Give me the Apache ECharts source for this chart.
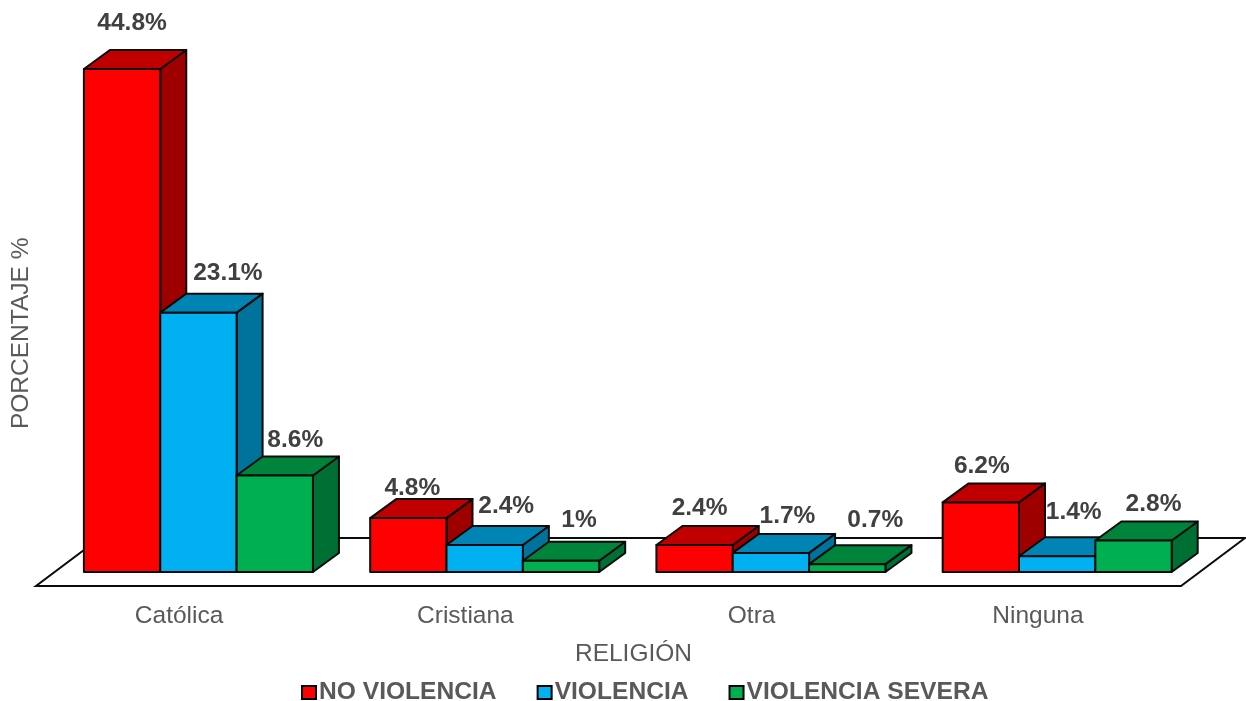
<!DOCTYPE html>
<html>
<head>
<meta charset="utf-8">
<style>html,body{margin:0;padding:0;background:#fff}#chart{width:1246px;height:701px}</style>
<script src="https://cdn.jsdelivr.net/npm/echarts@6/dist/echarts.min.js"></script>
</head>
<body>
<div id="chart"></div>
<script>
// Percentages by religion and level of violence
const categories = ['Católica', 'Cristiana', 'Otra', 'Ninguna'];
const noViolencia = [44.8, 4.8, 2.4, 6.2];
const violencia = [23.1, 2.4, 1.7, 1.4];
const violenciaSevera = [8.6, 1, 0.7, 2.8];

// Hand placement of the value labels, in pixels from the top centre of each front face
const noViolenciaNudge = [[10, -46], [4, -29.5], [5, -36.5], [1, -36.5]];
const violenciaNudge = [[29.5, -39.5], [21.5, -38.5], [16.5, -36.5], [16.5, -44.5]];
const severaNudge = [[20.5, -35.5], [18, -40.5], [28, -43.5], [20, -36.5]];

const FONT = '"Liberation Sans", Arial, sans-serif';
const BORDER = '#0b0b0b';

// Oblique projection of the box depth
const DEPTH_X = 26, DEPTH_Y = -19;
// The bars stand on the floor, set back from its front edge
const SET_BACK_X = 19.3, SET_BACK_Y = -14;
const BAR_RATIO = 0.2667;

function face(points, fill) {
  return {
    type: 'polygon',
    shape: { points },
    style: { fill, stroke: BORDER, lineWidth: 2, lineJoin: 'round' }
  };
}

function boxSeries(name, values, nudges, colors, slot) {
  return {
    name,
    type: 'custom',
    coordinateSystem: 'cartesian2d',
    itemStyle: { color: colors.front },
    data: values.map((v, i) => [i, v]),
    renderItem(params, api) {
      const i = api.value(0);
      const v = api.value(1);
      const w = api.size([1, 0])[0] * BAR_RATIO;
      const top = api.coord([i, v]);
      const base = api.coord([i, 0]);
      const x0 = top[0] + SET_BACK_X + (slot - 1.5) * w;
      const x1 = x0 + w;
      const y0 = base[1] + SET_BACK_Y;
      const y1 = top[1] + SET_BACK_Y;
      const nudge = nudges[i];
      return {
        type: 'group',
        children: [
          face([[x1, y1], [x1 + DEPTH_X, y1 + DEPTH_Y], [x1 + DEPTH_X, y0 + DEPTH_Y], [x1, y0]], colors.side),
          face([[x0, y1], [x0 + DEPTH_X, y1 + DEPTH_Y], [x1 + DEPTH_X, y1 + DEPTH_Y], [x1, y1]], colors.top),
          face([[x0, y0], [x0, y1], [x1, y1], [x1, y0]], colors.front),
          {
            type: 'text',
            z2: 10,
            style: {
              text: v + '%',
              x: (x0 + x1) / 2 + nudge[0],
              y: y1 + nudge[1],
              fill: '#404040',
              font: 'bold 24.5px ' + FONT,
              align: 'center',
              verticalAlign: 'middle'
            }
          }
        ]
      };
    }
  };
}

// Floor plane under all the boxes
const floorSeries = {
  name: 'Piso',
  type: 'custom',
  coordinateSystem: 'cartesian2d',
  silent: true,
  data: [[0, 0]],
  renderItem(params) {
    const c = params.coordSys;
    const y = c.y + c.height;
    const l = c.x, r = c.x + c.width;
    return {
      type: 'polygon',
      shape: { points: [[l, y], [r, y], [r + 64, y - 48], [l + 64, y - 48]] },
      style: { fill: '#fff', stroke: BORDER, lineWidth: 2 }
    };
  }
};

const option = {
  animation: false,
  backgroundColor: '#fff',
  grid: { left: 36, width: 1145, bottom: 115, height: 561.4 },
  xAxis: {
    type: 'category',
    data: categories,
    axisLine: { show: false },
    axisTick: { show: false },
    axisLabel: { color: '#595959', fontFamily: FONT, fontSize: 24.5, margin: 18 },
    name: 'RELIGIÓN',
    nameLocation: 'middle',
    nameGap: 56,
    nameTextStyle: { color: '#595959', fontFamily: FONT, fontSize: 24.5, padding: [0, 0, 0, 50] }
  },
  yAxis: {
    type: 'value',
    min: 0,
    max: 50,
    axisLine: { show: false },
    axisTick: { show: false },
    axisLabel: { show: false },
    splitLine: { show: false },
    name: 'PORCENTAJE %',
    nameLocation: 'middle',
    nameRotate: 90,
    nameGap: 2,
    nameTextStyle: { color: '#595959', fontFamily: FONT, fontSize: 24.5, padding: [0, 56, 0, 0] }
  },
  legend: {
    data: ['NO VIOLENCIA', 'VIOLENCIA', 'VIOLENCIA SEVERA'],
    left: 301,
    top: 680,
    padding: 0,
    itemWidth: 14,
    itemHeight: 13,
    itemGap: 40,
    icon: 'rect',
    itemStyle: { borderColor: '#000', borderWidth: 2 },
    textStyle: { color: '#595959', fontFamily: FONT, fontSize: 24.6, fontWeight: 'bold', padding: [0, 0, 0, -2] }
  },
  series: [
    floorSeries,
    boxSeries('NO VIOLENCIA', noViolencia, noViolenciaNudge, { front: '#FF0000', top: '#C00000', side: '#9E0000' }, 0),
    boxSeries('VIOLENCIA', violencia, violenciaNudge, { front: '#00B0F0', top: '#0084B4', side: '#00739D' }, 1),
    boxSeries('VIOLENCIA SEVERA', violenciaSevera, severaNudge, { front: '#00B050', top: '#00843C', side: '#006F33' }, 2)
  ]
};

echarts.init(document.getElementById('chart')).setOption(option);
</script>
</body>
</html>
